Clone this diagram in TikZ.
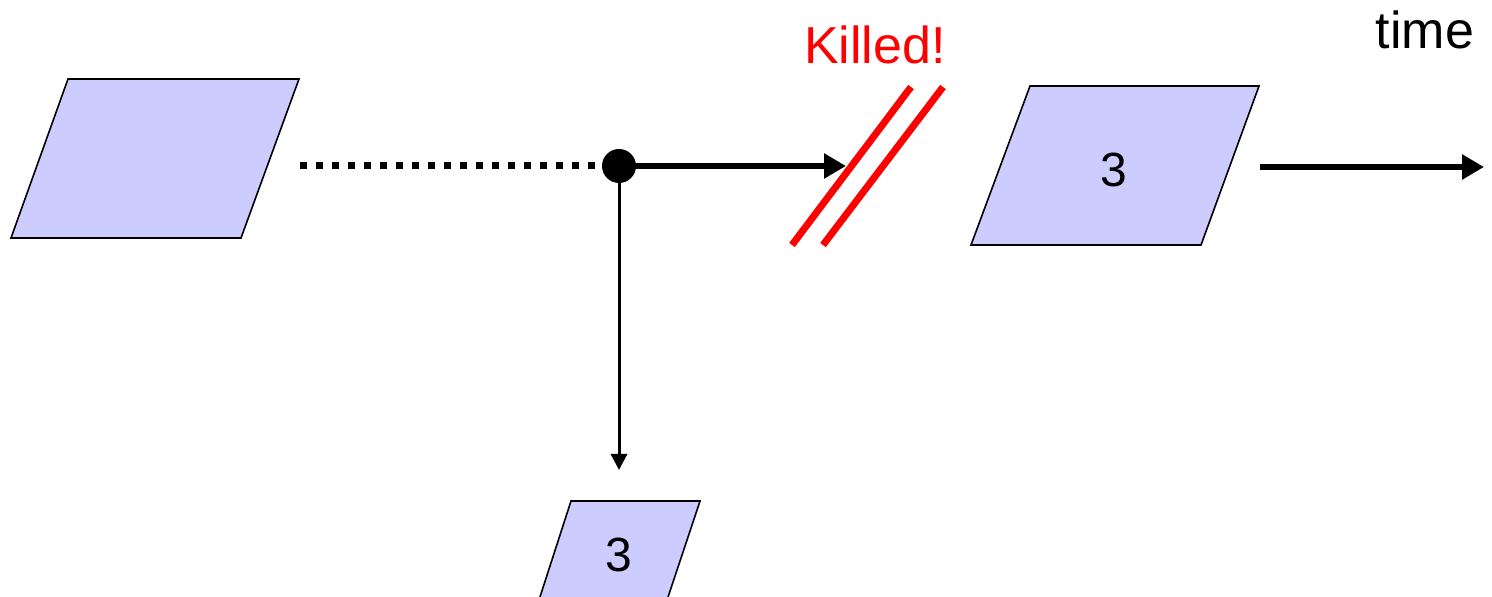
\documentclass[tikz,border=0pt]{standalone}
\usepackage{fontspec}
\setmainfont{Liberation Sans}
\usetikzlibrary{arrows.meta}
\definecolor{boxfill}{HTML}{CCCCFF}
\definecolor{killred}{HTML}{FF0000}
\tikzset{
  para/.style={draw=black, line width=0.8pt, fill=boxfill},
  lbl/.style={inner sep=0pt, font=\fontsize{24}{28}\selectfont},
  thickarrow/.style={line width=2.8pt, -{Triangle[length=11pt,width=12pt]}},
  thinarrow/.style={line width=1.5pt, -{Triangle[length=8pt,width=8pt]}},
  cut/.style={draw=killred, line width=3.5pt},
}
\begin{document}
\begin{tikzpicture}[x=0.5pt,y=-0.5pt]
\useasboundingbox (0,0) rectangle (1492,597);
% left parallelogram
\draw[para] (68,79) -- (299,79) -- (241,238) -- (11,238) -- cycle;
\coordinate (leftout) at (300,166);
% right parallelogram
\draw[para] (1030,86) -- (1259,86) -- (1201,245) -- (971,245) -- cycle;
\node[lbl] (r3) at (1114,170) {3};
% bottom parallelogram
\draw[para] (571,501) -- (700,501) -- (667,600) -- (539,600) -- cycle;
\node[lbl] (b3) at (619,555) {3};
% fork point
\node[circle, fill=black, inner sep=0pt, minimum size=17pt] (fork) at (619,166) {};
% dotted line
\draw[line width=3.5pt, dash pattern=on 3.5pt off 4.5pt] (leftout) -- (fork.west);
% arrows
\coordinate (killtip) at (846,166);
\draw[thickarrow] (fork.center) -- (killtip);
\coordinate (downtip) at (619,470);
\draw[thinarrow] (fork.center) -- (downtip);
\coordinate (tstart) at (1260,167);
\coordinate (tend) at (1484,167);
\draw[thickarrow] (tstart) -- (tend);
% kill marks
\draw[cut] (911,87) -- (792,245);
\draw[cut] (943,87) -- (823,245);
\node[lbl, text=killred, font=\fontsize{26}{30}\selectfont] (killed) at (875,45) {Killed!};
\node[lbl, font=\fontsize{26}{30}\selectfont] (time) at (1425,30) {time};
\end{tikzpicture}
\end{document}
